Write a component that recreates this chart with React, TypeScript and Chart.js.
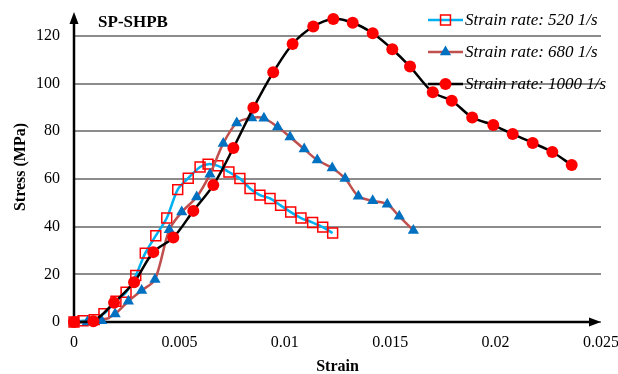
import React, { useEffect, useRef } from "react";
import { Chart, registerables } from "chart.js";

Chart.register(...registerables);

const SERIES_LABELS = ["Strain rate: 520 1/s", "Strain rate: 680 1/s", "Strain rate: 1000 1/s"];

const STRAIN_520 = [0, 0.00043, 0.00096, 0.00142, 0.00199, 0.00247, 0.00293, 0.00338, 0.00388, 0.0044, 0.00492, 0.00542, 0.00598, 0.00636, 0.00683, 0.00735, 0.00787, 0.00835, 0.00882, 0.0093, 0.0098, 0.01028, 0.01077, 0.01132, 0.0118, 0.01227];
const STRESS_520 = [0, 0.5, 1, 3.5, 8.7, 12.5, 19.5, 28.9, 36.2, 43.6, 55.5, 60.3, 65.0, 66.2, 65.5, 62.9, 60.2, 56.0, 53.2, 51.8, 48.9, 46.1, 43.6, 41.7, 39.8, 37.3];

const STRAIN_680 = [0, 0.00063, 0.00131, 0.00195, 0.00258, 0.00321, 0.00384, 0.00452, 0.00511, 0.00582, 0.00645, 0.00708, 0.00772, 0.00843, 0.00901, 0.00966, 0.01025, 0.01092, 0.01154, 0.01225, 0.01286, 0.01349, 0.01417, 0.01486, 0.01543, 0.0161];
const STRESS_680 = [0, 0, 0.5, 3.4, 8.7, 13.2, 17.8, 38.7, 46.1, 52.4, 62, 74.9, 83.5, 85.6, 85.4, 81.8, 77.6, 72.5, 67.9, 64.6, 60.2, 52.7, 50.8, 49.4, 44.3, 38.4];

const STRAIN_1000 = [0, 0.00092, 0.0019, 0.00285, 0.00376, 0.00471, 0.00566, 0.00661, 0.00756, 0.00851, 0.00945, 0.01037, 0.01135, 0.0123, 0.01322, 0.01417, 0.0151, 0.01594, 0.01702, 0.01792, 0.01889, 0.01989, 0.02081, 0.02176, 0.02269, 0.02361];
const STRESS_1000 = [0, 0.3, 8.1, 16.7, 29.3, 35.4, 46.6, 57.4, 73.0, 89.8, 104.7, 116.6, 123.9, 127.1, 125.5, 121.1, 114.4, 107.1, 96.3, 92.8, 85.8, 82.6, 78.8, 75.1, 71.3, 65.8];

const X_TICKS = [0, 0.005, 0.01, 0.015, 0.02, 0.025];
const Y_TICKS = [0, 20, 40, 60, 80, 100, 120];

const SERIF = "'Liberation Serif', 'Times New Roman', serif";

const toPoints = (xs: number[], ys: number[]) => xs.map((x, i) => ({ x, y: ys[i] }));

function drawMarker(ctx: CanvasRenderingContext2D, ds: any, x: number, y: number) {
  const r = ds.pointRadius;
  ctx.save();
  ctx.lineWidth = ds.pointBorderWidth;
  ctx.strokeStyle = ds.pointBorderColor;
  ctx.fillStyle = ds.pointBackgroundColor;
  ctx.beginPath();
  if (ds.pointStyle === "rect") {
    const s = Math.SQRT1_2 * r;
    ctx.rect(x - s, y - s, 2 * s, 2 * s);
  } else if (ds.pointStyle === "triangle") {
    const a = (2 * Math.PI) / 3;
    ctx.moveTo(x, y - r);
    ctx.lineTo(x + Math.sin(a) * r, y - Math.cos(a) * r);
    ctx.lineTo(x + Math.sin(2 * a) * r, y - Math.cos(2 * a) * r);
    ctx.closePath();
  } else {
    ctx.arc(x, y, r, 0, Math.PI * 2);
  }
  ctx.fill();
  if (ds.pointBorderWidth > 0) ctx.stroke();
  ctx.restore();
}

const axesPlugin = {
  id: "arrowAxes",
  beforeDatasetsDraw(chart: any) {
    const { ctx, chartArea } = chart;
    const { left, right, top, bottom } = chartArea;
    ctx.save();
    ctx.strokeStyle = "#000";
    ctx.fillStyle = "#000";
    ctx.lineWidth = 2.5;
    ctx.beginPath();
    ctx.moveTo(left, bottom + 1);
    ctx.lineTo(left, top + 8);
    ctx.moveTo(left - 1, bottom);
    ctx.lineTo(right - 8, bottom);
    ctx.stroke();
    ctx.beginPath();
    ctx.moveTo(left, top);
    ctx.lineTo(left - 4.5, top + 12);
    ctx.lineTo(left + 4.5, top + 12);
    ctx.closePath();
    ctx.fill();
    ctx.beginPath();
    ctx.moveTo(right, bottom);
    ctx.lineTo(right - 12, bottom - 4.5);
    ctx.lineTo(right - 12, bottom + 4.5);
    ctx.closePath();
    ctx.fill();
    ctx.restore();
  },
  afterDraw(chart: any) {
    const { ctx } = chart;
    ctx.save();
    ctx.fillStyle = "#000";
    ctx.font = `bold 17px ${SERIF}`;
    ctx.textAlign = "center";
    ctx.textBaseline = "middle";
    ctx.fillText("SP-SHPB", 133, 23);
    // legend
    const datasets = chart.data.datasets;
    ctx.font = `italic 17px ${SERIF}`;
    ctx.textAlign = "left";
    datasets.forEach((ds: any, i: number) => {
      const y = 20 + i * 32;
      ctx.strokeStyle = ds.borderColor;
      ctx.lineWidth = ds.borderWidth;
      ctx.beginPath();
      ctx.moveTo(428, y);
      ctx.lineTo(463, y);
      ctx.stroke();
      drawMarker(ctx, ds, 445.5, y);
      ctx.fillStyle = "#000";
      ctx.fillText(ds.label, 465, y + 1);
    });
    ctx.restore();
  },
};

export default function App() {
  const ref = useRef<HTMLCanvasElement | null>(null);

  useEffect(() => {
    if (!ref.current) return;
    const chart = new Chart(ref.current, {
      type: "line",
      data: {
        datasets: [
          {
            label: SERIES_LABELS[0],
            data: toPoints(STRAIN_520, STRESS_520),
            borderColor: "#00B0F0",
            borderWidth: 2.5,
            pointStyle: "rect",
            pointRadius: 7,
            pointBorderWidth: 1.5,
            pointBorderColor: "#FF0000",
            pointBackgroundColor: "rgba(255,255,255,0)",
            tension: 0.3,
            order: 2,
            clip: false,
          },
          {
            label: SERIES_LABELS[1],
            data: toPoints(STRAIN_680, STRESS_680),
            borderColor: "#C0504D",
            borderWidth: 2.5,
            pointStyle: "triangle",
            pointRadius: 6.5,
            pointBorderWidth: 0,
            pointBorderColor: "#0070C0",
            pointBackgroundColor: "#0070C0",
            tension: 0.3,
            order: 1,
            clip: false,
          },
          {
            label: SERIES_LABELS[2],
            data: toPoints(STRAIN_1000, STRESS_1000),
            borderColor: "#000000",
            borderWidth: 2.5,
            pointStyle: "circle",
            pointRadius: 6,
            pointBorderWidth: 0,
            pointBorderColor: "#FF0000",
            pointBackgroundColor: "#FF0000",
            tension: 0.3,
            order: 0,
            clip: false,
          },
        ] as any,
      },
      options: {
        responsive: false,
        animation: false,
        devicePixelRatio: 1,
        layout: { padding: { top: 12, right: 17, left: 0, bottom: 0 } },
        plugins: { legend: { display: false }, tooltip: { enabled: false } },
        scales: {
          x: {
            type: "linear",
            min: 0,
            max: 0.025,
            grid: { display: false, drawTicks: false },
            border: { display: false },
            afterBuildTicks: (scale: any) => {
              scale.ticks = X_TICKS.map((v) => ({ value: v }));
            },
            afterFit: (scale: any) => {
              scale.height = 52;
              scale.paddingLeft = 0;
              scale.paddingRight = 0;
            },
            ticks: {
              padding: 11,
              maxRotation: 0,
              autoSkip: false,
              color: "#000",
              font: { family: SERIF, size: 16 },
              callback: (v: any) => String(Number(Number(v).toFixed(4))),
            },
            title: {
              display: true,
              text: "Strain",
              color: "#000",
              font: { family: SERIF, size: 16, weight: "bold", lineHeight: 0.85 },
              padding: { top: 0, bottom: 0 },
            },
          },
          y: {
            type: "linear",
            min: 0,
            max: 130,
            grid: { color: "#8C8C8C", lineWidth: 2, drawTicks: false },
            border: { display: false },
            afterBuildTicks: (scale: any) => {
              scale.ticks = Y_TICKS.map((v) => ({ value: v }));
            },
            afterFit: (scale: any) => {
              scale.width = 74;
              scale.paddingTop = 0;
              scale.paddingBottom = 0;
            },
            ticks: {
              padding: 14,
              color: "#000",
              font: { family: SERIF, size: 16 },
              callback: (v: any) => String(v),
            },
            title: {
              display: true,
              text: "Stress (MPa)",
              color: "#000",
              font: { family: SERIF, size: 16, weight: "bold", lineHeight: 1 },
              padding: { top: 13, bottom: 0 },
            },
          },
        },
      },
      plugins: [axesPlugin],
    } as any);
    return () => chart.destroy();
  }, []);

  return (
    <div style={{ position: "fixed", left: 0, top: 0, width: 618, height: 374, background: "#fff" }}>
      <canvas ref={ref} width={618} height={374} style={{ width: 618, height: 374, display: "block" }} />
    </div>
  );
}
